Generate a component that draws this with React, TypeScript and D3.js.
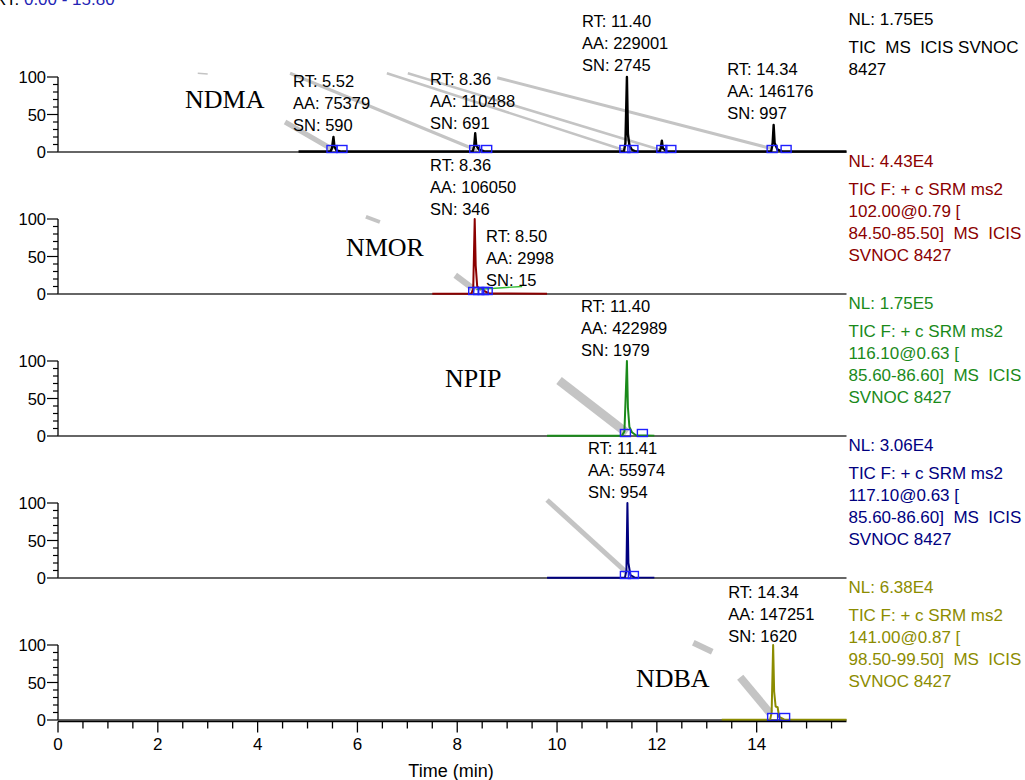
import * as d3 from "d3";

// retention time range (min)
const timeDomain: [number, number] = [0, 15.8];
const timeTicks = [0, 2, 4, 6, 8, 10, 12, 14];

const compoundNames = ["NDMA", "NMOR", "NPIP", "", "NDBA"];
const traceColors = ["#000000", "#8b0000", "#1a8a1a", "#00007f", "#8c8c00"];
const nlValues = ["1.75E5", "4.43E4", "1.75E5", "3.06E4", "6.38E4"];
const scanFilters = [
  ["TIC  MS  ICIS SVNOC", "8427"],
  ["TIC F: + c SRM ms2", "102.00@0.79 [", "84.50-85.50]  MS  ICIS", "SVNOC 8427"],
  ["TIC F: + c SRM ms2", "116.10@0.63 [", "85.60-86.60]  MS  ICIS", "SVNOC 8427"],
  ["TIC F: + c SRM ms2", "117.10@0.63 [", "85.60-86.60]  MS  ICIS", "SVNOC 8427"],
  ["TIC F: + c SRM ms2", "141.00@0.87 [", "98.50-99.50]  MS  ICIS", "SVNOC 8427"],
];

// [time, relative abundance %]
const ndmaTrace: [number, number][] = [
  [4.82, 0.6], [5.46, 0.6], [5.49, 5], [5.52, 20], [5.54, 7], [5.58, 2], [5.68, 0.6],
  [8.31, 0.6], [8.34, 8], [8.36, 25], [8.38, 9], [8.44, 3], [8.56, 0.6],
  [11.34, 0.6], [11.37, 12], [11.40, 100], [11.42, 24], [11.45, 9], [11.50, 3], [11.58, 0.6],
  [12.06, 0.6], [12.08, 6], [12.10, 15], [12.12, 5], [12.20, 0.6],
  [14.29, 0.6], [14.32, 12], [14.34, 36], [14.36, 12], [14.42, 3], [14.52, 0.6],
  [15.80, 0.6],
];
const nmorTrace: [number, number][] = [
  [7.5, 0.5], [8.28, 0.5], [8.32, 6], [8.35, 100], [8.37, 38], [8.40, 10], [8.46, 6],
  [8.50, 8], [8.54, 4], [8.64, 0.8], [9.8, 0.5],
];
const npipTrace: [number, number][] = [
  [9.8, 0.5], [11.30, 0.5], [11.35, 6], [11.38, 62], [11.40, 100], [11.42, 38], [11.45, 12],
  [11.50, 5], [11.58, 1], [11.95, 0.5],
];
const trace117: [number, number][] = [
  [9.8, 0.5], [11.36, 0.5], [11.39, 10], [11.41, 100], [11.43, 20], [11.47, 4], [11.55, 0.8],
  [11.95, 0.5],
];
const ndbaTrace: [number, number][] = [
  [13.3, 0.5], [14.27, 0.5], [14.30, 10], [14.33, 100], [14.35, 38], [14.38, 18], [14.42, 17],
  [14.45, 4], [14.55, 0.8], [15.8, 0.5],
];
const traces = [ndmaTrace, nmorTrace, npipTrace, trace117, ndbaTrace];

// annotated peaks: rt, area, signal/noise
const peakTables = [
  [
    { rt: "5.52", aa: "75379", sn: "590" },
    { rt: "8.36", aa: "110488", sn: "691" },
    { rt: "11.40", aa: "229001", sn: "2745" },
    { rt: "14.34", aa: "146176", sn: "997" },
  ],
  [
    { rt: "8.36", aa: "106050", sn: "346" },
    { rt: "8.50", aa: "2998", sn: "15" },
  ],
  [{ rt: "11.40", aa: "422989", sn: "1979" }],
  [{ rt: "11.41", aa: "55974", sn: "954" }],
  [{ rt: "14.34", aa: "147251", sn: "1620" }],
];

// integration start/end markers (min)
const peakBounds = [
  [5.49, 5.69, 8.35, 8.59, 11.36, 11.52, 12.10, 12.28, 14.31, 14.59],
  [8.33, 8.43, 8.52, 8.60],
  [11.37, 11.71],
  [11.37, 11.53],
  [14.32, 14.56],
];

// grey leader strokes [t1, %1, t2, %2]
const leaderLines = [
  [[2.80, 105, 3.00, 104], [4.65, 105, 8.40, 2], [4.55, 40, 5.51, 3], [6.59, 105, 11.32, 3], [7.01, 105, 12.06, 3], [8.80, 99, 14.27, 5]],
  [[6.17, 103, 6.45, 96], [7.96, 25, 8.36, 5]],
  [[10.04, 74, 11.40, 4]],
  [[9.80, 104, 11.40, 7]],
  [[12.73, 103, 13.11, 91], [13.67, 57, 14.27, 9]],
];
const leaderWidths = [
  [1.5, 3, 5, 2.5, 2.5, 3],
  [4, 6],
  [9],
  [5],
  [6, 8],
];

// label anchors in data units: [time of left edge, % of first line]
const labelAnchors = [
  [[4.71, 95], [7.455, 97.5], [10.50, 174.5], [13.41, 110.5]],
  [[7.455, 172], [8.577, 77]],
  [[10.48, 173]],
  [[10.62, 173]],
  [[13.43, 171]],
];
const nameAnchors = [[2.545, 58.5], [5.77, 50.5], [7.755, 65], [0, 0], [11.58, 44]];

const SANS = "'Liberation Sans', Arial, Helvetica, sans-serif";
const SERIF = "'Liberation Serif', 'Times New Roman', serif";

export default function App() {
  const width = 1025;
  const height = 780;
  const left = 58;
  const right = 846.5;
  const panelH = 75;
  const panelStep = 142;
  const firstTop = 77;

  const x = d3.scaleLinear().domain(timeDomain).range([left, right]);
  const minorY = d3.range(0, 101, 10);
  const minorX = d3.range(0, 15.8, 0.5);

  return (
    <svg
      width={width}
      height={height}
      style={{ position: "absolute", left: 0, top: 0, background: "#fff" }}
      fontFamily={SANS}
    >
      <text x={-6} y={5} fontSize={17} fill="#000">
        RT: <tspan fill="#2323b4">0.00 - 15.80</tspan>
      </text>

      {traces.map((trace, i) => {
        const top = firstTop + i * panelStep;
        const y = d3.scaleLinear().domain([0, 100]).range([top + panelH, top]);
        const line = d3
          .line<[number, number]>()
          .x((d) => x(d[0]))
          .y((d) => y(d[1]));
        const color = traceColors[i];
        const base = y(0);
        const bounds = peakBounds[i];
        return (
          <g key={i}>
            {/* grey leader strokes */}
            {leaderLines[i].map((l, j) => (
              <line
                key={j}
                x1={x(l[0])}
                y1={y(l[1])}
                x2={x(l[2])}
                y2={y(l[3])}
                stroke="#c4c4c4"
                strokeWidth={leaderWidths[i][j]}
              />
            ))}

            {/* y axis */}
            <line x1={left} x2={left} y1={y(100)} y2={base} stroke="#000" strokeWidth={1.3} />
            {minorY.map((t) => (
              <line
                key={t}
                x1={left - (t % 50 === 0 ? 11 : 5)}
                x2={left}
                y1={y(t)}
                y2={y(t)}
                stroke="#000"
                strokeWidth={1.2}
              />
            ))}
            {[0, 50, 100].map((t) => (
              <text
                key={t}
                x={left - 12}
                y={y(t)}
                textAnchor="end"
                dominantBaseline="central"
                fontSize={16.5}
              >
                {t}
              </text>
            ))}

            {/* baseline */}
            <line x1={left} x2={right} y1={base} y2={base} stroke="#333" strokeWidth={1.6} />

            {/* chromatogram */}
            <path
              d={line(trace) ?? ""}
              fill="none"
              stroke={color}
              strokeWidth={i === 0 ? 2.4 : 2}
              strokeLinejoin="round"
            />
            {i === 1 && (
              <line
                x1={x(8.38)}
                y1={y(6)}
                x2={x(9.30)}
                y2={y(10)}
                stroke="#33bb33"
                strokeWidth={1.4}
              />
            )}

            {/* integration markers */}
            {bounds.map((b, j) => (
              <rect
                key={j}
                x={x(b) - 5}
                y={base - 6.5}
                width={10}
                height={7}
                fill="none"
                stroke="#1f1fff"
                strokeWidth={1.4}
              />
            ))}

            {/* peak labels */}
            {peakTables[i].map((p, j) => {
              const [lt, lp] = labelAnchors[i][j];
              const ly = y(lp);
              return (
                <text key={j} x={x(lt)} y={ly} fontSize={16.5} dominantBaseline="central" fill="#000">
                  <tspan x={x(lt)} dy={0}>RT: {p.rt}</tspan>
                  <tspan x={x(lt)} dy={22}>AA: {p.aa}</tspan>
                  <tspan x={x(lt)} dy={22}>SN: {p.sn}</tspan>
                </text>
              );
            })}

            {/* compound name */}
            {compoundNames[i] && (
              <text
                x={x(nameAnchors[i][0])}
                y={y(nameAnchors[i][1])}
                fontFamily={SERIF}
                fontSize={26}
                fill="#000"
              >
                {compoundNames[i]}
              </text>
            )}

            {/* scan info on the right */}
            <text
              x={right + 2}
              y={top - 58}
              fontSize={17}
              dominantBaseline="central"
              fill={color}
              style={{ whiteSpace: "pre" }}
            >
              <tspan x={right + 2} dy={0}>NL: {nlValues[i]}</tspan>
              {scanFilters[i].map((s, j) => (
                <tspan key={j} x={right + 2} dy={j === 0 ? 28 : 22}>
                  {s}
                </tspan>
              ))}
            </text>
          </g>
        );
      })}

      {/* time axis */}
      {(() => {
        const axisY = firstTop + 4 * panelStep + panelH + 1.5;
        return (
          <g>
            <line x1={left} x2={right} y1={axisY} y2={axisY} stroke="#000" strokeWidth={1.5} />
            {minorX.map((t) => (
              <line
                key={t}
                x1={x(t)}
                x2={x(t)}
                y1={axisY}
                y2={axisY + (t % 2 === 0 ? 11 : 7)}
                stroke="#000"
                strokeWidth={1.3}
              />
            ))}
            {timeTicks.map((t) => (
              <text key={t} x={x(t)} y={axisY + 23} textAnchor="middle" dominantBaseline="central" fontSize={17}>
                {t}
              </text>
            ))}
            <text x={451} y={axisY + 49} textAnchor="middle" dominantBaseline="central" fontSize={18}>
              Time (min)
            </text>
          </g>
        );
      })()}
    </svg>
  );
}
